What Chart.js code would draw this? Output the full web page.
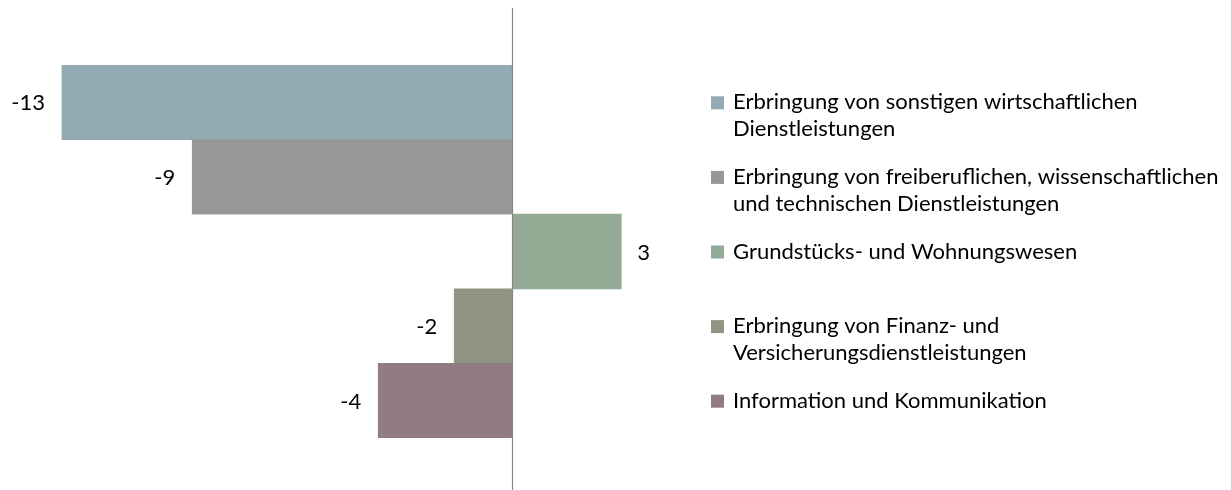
<!DOCTYPE html>
<html>
<head>
<meta charset="utf-8">
<script src="https://cdn.jsdelivr.net/npm/chart.js@4/dist/chart.umd.min.js"></script>
<style>
  body { margin: 0; background: #fff; }
</style>
</head>
<body>
<canvas id="myChart" width="1231" height="490"></canvas>
<script>
// Branchen (Legende, mehrzeilig wie im Original)
const categories = [
    ["Erbringung von sonstigen wirtschaftlichen", "Dienstleistungen"],
    ["Erbringung von freiberuflichen, wissenschaftlichen", "und technischen Dienstleistungen"],
    ["Grundstücks- und Wohnungswesen"],
    ["Erbringung von Finanz- und", "Versicherungsdienstleistungen"],
    ["Information und Kommunikation"]
]
const values = [-12.86, -9.14, 3.11, -1.66, -3.83]
const colors = ['#93A9B3', '#979797', '#93AA95', '#929483', '#917C82']

const font = 'Lato'

// senkrechte Nulllinie ueber die ganze Hoehe
const zeroLine = {
    id: 'zeroLine',
    afterDatasetsDraw(chart) {
        const ctx = chart.ctx
        const x = Math.round(chart.scales.x.getPixelForValue(0)) + 0.5
        ctx.save()
        ctx.strokeStyle = '#878787'
        ctx.lineWidth = 1.2
        ctx.beginPath()
        ctx.moveTo(x, 8)
        ctx.lineTo(x, chart.height)
        ctx.stroke()
        ctx.restore()
    }
}

// Werte an den Balkenenden
const valueLabels = {
    id: 'valueLabels',
    afterDatasetsDraw(chart) {
        const ctx = chart.ctx
        const meta = chart.getDatasetMeta(0)
        ctx.save()
        ctx.font = '22px ' + font
        ctx.fillStyle = '#000'
        ctx.textBaseline = 'middle'
        meta.data.forEach((bar, i) => {
            const v = values[i]
            const txt = String(Math.round(v))
            if (v < 0) {
                ctx.textAlign = 'right'
                ctx.fillText(txt, bar.x - 17, bar.y + 1)
            } else {
                ctx.textAlign = 'left'
                ctx.fillText(txt, bar.x + 16, bar.y + 1)
            }
        })
        ctx.restore()
    }
}

// Legende rechts, erste Zeile auf Hoehe des Balkens
const sideLegend = {
    id: 'sideLegend',
    afterDraw(chart) {
        const ctx = chart.ctx
        const yScale = chart.scales.y
        ctx.save()
        ctx.font = '22px ' + font
        ctx.textBaseline = 'alphabetic'
        ctx.textAlign = 'left'
        categories.forEach((lines, i) => {
            const y = yScale.getPixelForValue(i)
            ctx.fillStyle = colors[i]
            ctx.fillRect(711, y - 6, 13, 13)
            ctx.fillStyle = '#000'
            lines.forEach((line, j) => {
                ctx.fillText(line, 733, y + 7 + j * 27)
            })
        })
        ctx.restore()
    }
}

const data = {
    labels: categories,
    datasets: [{
        data: values,
        backgroundColor: colors,
        borderWidth: 0,
        categoryPercentage: 1,
        barPercentage: 1
    }]
}

const config = {
    type: 'bar',
    data: data,
    options: {
        indexAxis: 'y',
        responsive: false,
        animation: false,
        layout: { padding: { left: 4.5, right: 526, top: 65, bottom: 52 } },
        plugins: {
            legend: { display: false },
            tooltip: { enabled: false }
        },
        scales: {
            x: { type: 'linear', min: -14.5, max: 5.5, display: false },
            y: { display: false }
        }
    },
    plugins: [zeroLine, valueLabels, sideLegend]
}

const myChart = new Chart(document.getElementById('myChart'), config)
</script>
</body>
</html>
